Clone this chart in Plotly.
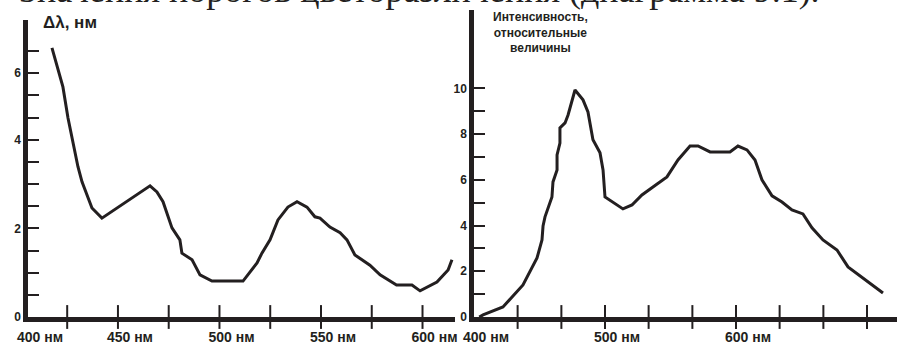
import plotly.graph_objects as go

# ---- data ----
left_wl = [417.5, 422.9, 425.4, 428.8, 430.3, 432.3, 437.2, 442.1, 465.8, 469.2, 472.2,
           476.6, 480.5, 481.5, 486.5, 490.4, 496.3, 511.6, 518.5, 520.9, 524.9, 528.8,
           533.7, 538.2, 543.1, 547.0, 549.5, 554.4, 559.4, 562.8, 566.7, 574.1, 579.1,
           587.2, 594.8, 598.8, 607.1, 612.6, 614.5]
left_dl = [6.07, 5.19, 4.49, 3.77, 3.39, 3.05, 2.46, 2.23, 2.96, 2.82, 2.60,
           2.01, 1.74, 1.44, 1.29, 0.95, 0.81, 0.81, 1.22, 1.44, 1.74, 2.19,
           2.48, 2.60, 2.48, 2.26, 2.23, 2.03, 1.90, 1.74, 1.40, 1.17, 0.95,
           0.72, 0.72, 0.59, 0.79, 1.06, 1.29]

right_wl = [404.0, 406.9, 422.1, 437.4, 448.1, 451.9, 452.7, 454.2, 459.5, 460.3, 463.4,
            463.4, 465.6, 465.6, 469.5, 471.8, 477.1, 483.2, 487.0, 490.8, 496.2, 498.5,
            500.0, 513.7, 520.6, 528.2, 536.6, 547.3, 555.7, 564.9, 571.0, 580.2, 595.4,
            601.5, 608.4, 614.5, 619.8, 627.5, 635.1, 642.7, 651.1, 658.0, 666.4, 677.1,
            685.5, 697.0, 712.2]
right_int = [0.0, 0.09, 0.44, 1.40, 2.58, 3.37, 3.98, 4.38, 5.25, 5.91, 6.43,
             7.09, 7.61, 8.27, 8.49, 8.84, 9.93, 9.50, 8.97, 7.75, 7.18, 6.43,
             5.25, 4.73, 4.90, 5.34, 5.69, 6.13, 6.87, 7.48, 7.48, 7.22, 7.22,
             7.48, 7.31, 6.87, 6.00, 5.30, 5.03, 4.68, 4.51, 3.90, 3.37, 2.93,
             2.19, 1.71, 1.05]

left_xrange = [405.7, 616.0]
left_yrange = [0, 6.70]
right_xrange = [400, 722.9]
right_yrange = [0, 13.43]

left_xticks = [425, 450, 475, 500, 525, 550, 575, 600]
left_xlabel_vals = [405.7, 450, 500, 550, 600]
left_xlabel_text = ["400 нм", "450 нм", "500 нм", "550 нм", "600 нм"]
left_yticks = [0, 0.5, 1, 1.5, 2, 2.5, 3, 3.5, 4, 4.5, 5, 5.5, 6]
left_ytext = ["0", "", "", "", "2", "", "", "", "4", "", "", "6", ""]

right_xticks = [433.3, 466.7, 500, 533.3, 566.7, 600, 633.3, 666.7, 700]
right_xlabel_vals = [400, 500, 600, 700]
right_xlabel_text = ["400 нм", "500 нм", "600 нм", "700 нм"]
right_yticks = [0, 1, 2, 3, 4, 5, 6, 7, 8, 9, 10]
right_ytext = ["0", "", "2", "", "4", "", "6", "", "8", "", "10"]

INK = "#231f20"
TICKFONT_X = dict(family="Liberation Sans, Arial", size=14, color=INK, weight="bold")
TICKFONT_Y = dict(family="Liberation Sans, Arial", size=12, color=INK, weight="bold")

fig = go.Figure()
fig.add_trace(go.Scatter(x=left_wl, y=left_dl, mode="lines",
                         line=dict(color=INK, width=3), xaxis="x", yaxis="y",
                         showlegend=False, hoverinfo="skip"))
fig.add_trace(go.Scatter(x=right_wl, y=right_int, mode="lines",
                         line=dict(color=INK, width=3), xaxis="x2", yaxis="y2",
                         showlegend=False, hoverinfo="skip"))

# x tick marks crossing the axis line
for xs, xa, ya in [(left_xticks, "x", "y"), (right_xticks, "x2", "y2")]:
    fig.add_trace(go.Scatter(x=xs, y=[0] * len(xs), mode="markers", xaxis=xa, yaxis=ya,
                             marker=dict(symbol="line-ns", size=17,
                                         line=dict(color=INK, width=2)),
                             cliponaxis=False, showlegend=False, hoverinfo="skip"))

LX = [28 / 899, 455 / 899]
RX = [474 / 899, 897 / 899]
BOT = (344 - 317) / 344
LTOP = (344 - 20) / 344
RTOP = (344 - 10) / 344


def main_x(domain, rng, vals, text, anchor):
    return dict(domain=domain, range=rng, anchor=anchor, showline=True, linewidth=4.5,
                linecolor=INK, ticks="", tickvals=vals, ticktext=text,
                tickfont=TICKFONT_X, ticklabelshift=12, ticklabelstandoff=3,
                showgrid=False, zeroline=False, fixedrange=True)


def main_y(domain, rng, ticks, text, anchor):
    return dict(domain=domain, range=rng, anchor=anchor, showline=True, linewidth=4.5,
                linecolor=INK, ticks="inside", ticklen=11, tickwidth=2, tickcolor=INK,
                tickvals=ticks, ticktext=text, tickfont=TICKFONT_Y,
                showgrid=False, zeroline=False, fixedrange=True)


fig.update_layout(
    width=899, height=344,
    margin=dict(l=0, r=0, t=0, b=0, autoexpand=False),
    paper_bgcolor="white", plot_bgcolor="white",
    showlegend=False,
    xaxis=main_x(LX, left_xrange, left_xlabel_vals, left_xlabel_text, "y"),
    yaxis=main_y([BOT, LTOP], left_yrange, left_yticks, left_ytext, "x"),
    xaxis2=main_x(RX, right_xrange, right_xlabel_vals, right_xlabel_text, "y2"),
    yaxis2=main_y([BOT, RTOP], right_yrange, right_yticks, right_ytext, "x2"),
)

# page-top text, cut off at the top edge as in the reference
fig.add_annotation(text="Значения порогов цветоразличения (диаграмма 9.1).",
                   xref="paper", yref="paper", x=17 / 899, y=1 + 10.5 / 344,
                   xanchor="left", yanchor="middle", showarrow=False,
                   font=dict(family="Liberation Serif, Times New Roman", size=36, color=INK))
fig.add_annotation(text="Δλ, нм", xref="paper", yref="paper", x=41 / 899, y=1 - 22 / 344,
                   xanchor="left", yanchor="middle", showarrow=False,
                   font=dict(family="Liberation Sans, Arial", size=17, color=INK, weight="bold"))
fig.add_annotation(text="Интенсивность,<br>относительные<br>величины", xref="paper", yref="paper",
                   x=540 / 899, y=1 - 33 / 344, xanchor="center", yanchor="middle",
                   showarrow=False, align="center",
                   font=dict(family="Liberation Sans, Arial", size=12, color=INK, weight="bold"))

fig.write_html("out.html", config={"displayModeBar": False},
               post_script="document.body.style.margin='0';document.body.style.overflow='hidden';")
